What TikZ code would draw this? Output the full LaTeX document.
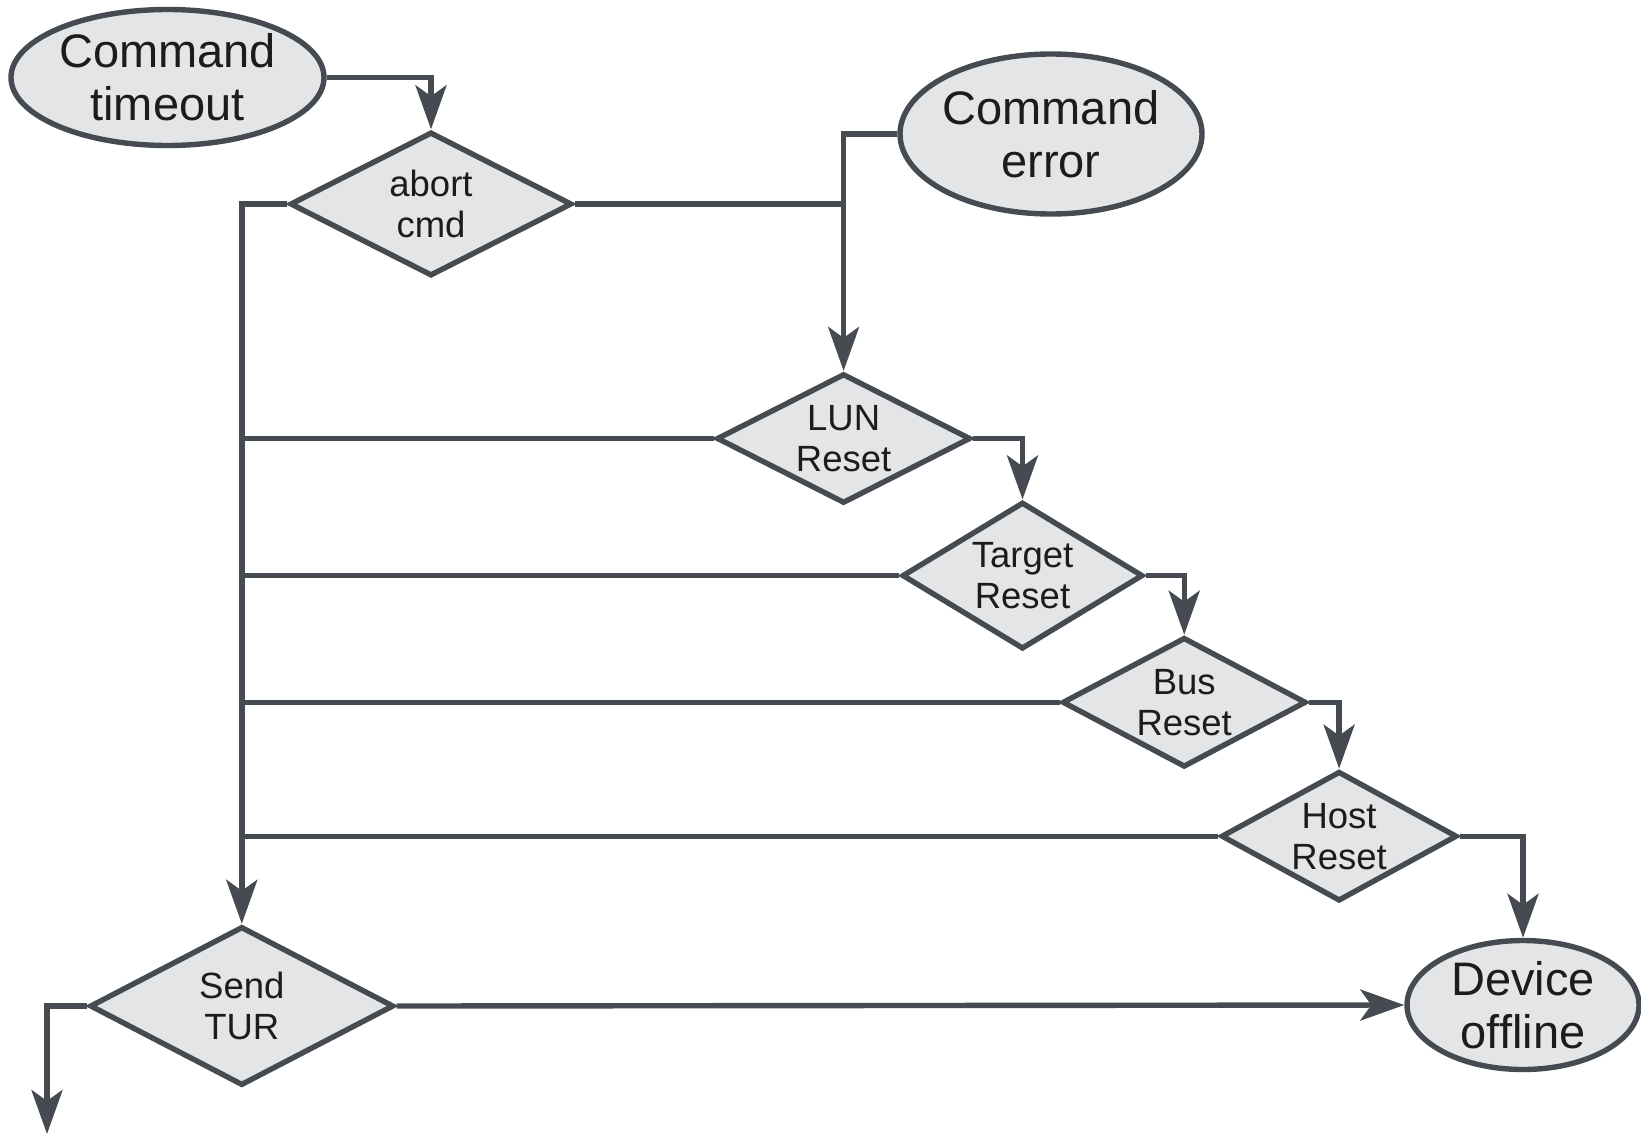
\documentclass[tikz,border=0pt]{standalone}
\usepackage{fontspec}
\setmainfont{Liberation Sans}
\usepackage{tikz}
\usetikzlibrary{arrows.meta,shapes.geometric}
\usepackage{xcolor}
\definecolor{flowline}{HTML}{454B51}
\definecolor{flowfill}{HTML}{E4E5E7}
\definecolor{flowtext}{HTML}{1C1C1C}

\tikzset{
  event/.style={ellipse, draw=flowline, fill=flowfill, line width=2.7pt, inner sep=-4pt, text=flowtext, align=center, font=\fontsize{23.5pt}{26.5pt}\selectfont},
  decision/.style={diamond, draw=flowline, fill=flowfill, line width=2.7pt, inner sep=-4pt, text=flowtext, align=center, font=\fontsize{18.25pt}{20.5pt}\selectfont},
  flow/.style={draw=flowline, line width=2.7pt},
  flowarrow/.style={flow, -{Stealth[length=22pt, width=15.5pt, inset=5.5pt]}}
}

\begin{document}
\begin{tikzpicture}[x=0.5pt, y=-0.5pt]
  \useasboundingbox (0,0) rectangle (1641,1134);

  \node[event, minimum width=156.5pt, minimum height=68pt] (timeout) at (167.5,77.5) {Command\\timeout};
  \node[event, minimum width=151pt, minimum height=80pt] (cmderr) at (1051,134) {Command\\error};
  \node[event, minimum width=116pt, minimum height=64.5pt] (offline) at (1523,1005) {Device\\offline};

  \node[decision, minimum width=141pt, minimum height=72pt] (abort) at (431,204) {abort\\cmd};
  \node[decision, minimum width=127pt, minimum height=62pt] (lun) at (843.6,438.5) {LUN\\Reset};
  \node[decision, minimum width=120.5pt, minimum height=73.5pt] (target) at (1022.5,575.6) {Target\\Reset};
  \node[decision, minimum width=122pt, minimum height=62pt] (bus) at (1184.2,702.3) {Bus\\Reset};
  \node[decision, minimum width=118pt, minimum height=56.5pt] (host) at (1339.1,836.2) {Host\\Reset};
  \node[decision, minimum width=152pt, minimum height=79.5pt] (tur) at (241.8,1006) {Send\\TUR};

  \coordinate (exit) at (47,1134);

  \draw[flowarrow] (timeout.east) -| (abort.north);
  \draw[flowarrow] (cmderr.west) -| (lun.north);
  \draw[flow] (abort.east) -- (abort.east -| lun.north);
  \draw[flowarrow] (abort.west) -| (tur.north);
  \foreach \n in {lun,target,bus,host}
    \draw[flow] (\n.west) -- (\n.west -| tur.north);
  \draw[flowarrow] (lun.east) -| (target.north);
  \draw[flowarrow] (target.east) -| (bus.north);
  \draw[flowarrow] (bus.east) -| (host.north);
  \draw[flowarrow] (host.east) -| (offline.north);
  \draw[flowarrow] (tur.east) -- (offline.west);
  \draw[flowarrow] (tur.west) -| (exit);
\end{tikzpicture}
\end{document}
